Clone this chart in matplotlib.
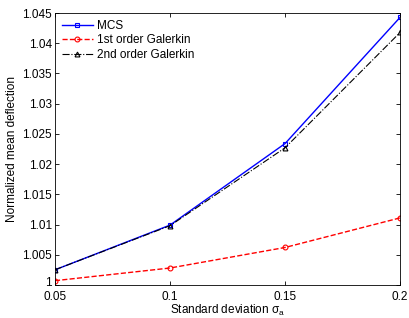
import numpy as np
import matplotlib.pyplot as plt
import matplotlib.transforms as mtransforms

plt.rcParams['font.family'] = ['Liberation Sans', 'DejaVu Sans']
plt.rcParams['mathtext.fontset'] = 'custom'
plt.rcParams['mathtext.it'] = 'Liberation Sans:italic'
plt.rcParams['mathtext.rm'] = 'Liberation Sans'

sigma = [0.05, 0.1, 0.15, 0.2]
mcs = [1.0025, 1.0099, 1.0234, 1.0443]
galerkin1 = [1.0007, 1.0028, 1.0062, 1.0111]
galerkin2 = [1.0025, 1.0098, 1.0227, 1.0418]

fig = plt.figure(figsize=(4.1, 3.18), dpi=100)
ax = fig.add_axes([0.134, 0.104, 0.842, 0.855])

ax.plot(sigma, mcs, '-s', color='#0000ff', lw=1.0, ms=3.5, mfc='none', mew=0.8, label='MCS')
ax.plot(sigma, galerkin1, '--o', color='#ff0000', lw=1.0, ms=3.5, mfc='none', mew=0.8, label='1st order Galerkin')
ax.plot(sigma, galerkin2, '-.^', color='black', lw=0.8, ms=3.5, mfc='none', mew=0.8, label='2nd order Galerkin')

ax.set_xlim(0.05, 0.2)
ax.set_ylim(1.0, 1.045)
ax.set_xticks([0.05, 0.1, 0.15, 0.2])
ax.set_xticklabels(['0.05', '0.1', '0.15', '0.2'])
ax.set_yticks(np.arange(1.0, 1.0451, 0.005))
ax.set_yticklabels(['1', '1.005', '1.01', '1.015', '1.02', '1.025', '1.03', '1.035', '1.04', '1.045'])
ax.tick_params(direction='in', top=True, right=True, labelsize=8.5, length=3, width=0.6)
ax.tick_params(axis='y', pad=2)
ax.tick_params(axis='x', pad=4.5)
for s in ax.spines.values():
    s.set_linewidth(0.6)

# nudge the bottom y label up a little so it clears 0.05
lbl = ax.get_yticklabels()[0]
lbl.set_transform(lbl.get_transform() + mtransforms.ScaledTranslation(0, 2.5 / 72, fig.dpi_scale_trans))

ax.set_xlabel(r'Standard deviation $\mathrm{\sigma_a}$', fontsize=8.5, labelpad=0)
ax.set_ylabel('Normalized mean deflection', fontsize=8.5, labelpad=3)

leg = ax.legend(loc='upper left', fontsize=8.5, frameon=False, handlelength=2.6,
                handletextpad=0.4, labelspacing=0.2, borderaxespad=0.3, borderpad=0.3)

fig.savefig('out.png', dpi=100)
